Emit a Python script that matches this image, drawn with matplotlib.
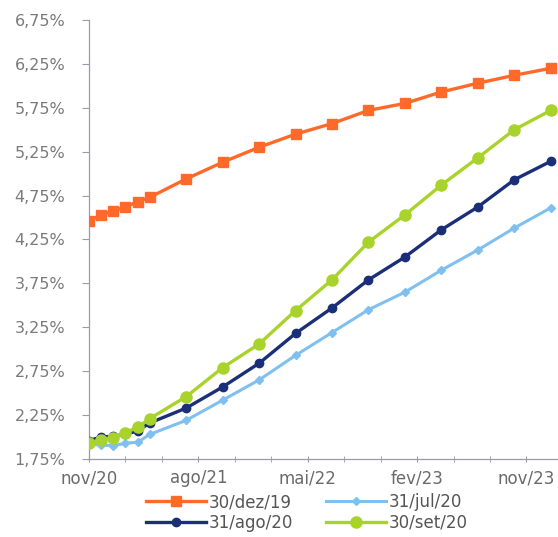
import matplotlib
matplotlib.use("Agg")
import matplotlib.pyplot as plt
from matplotlib.ticker import FixedLocator, FuncFormatter

# ── Data ─────────────────────────────────────────────────────────────
# months counted from nov/20
MONTHS = [0, 1, 2, 3, 4, 5, 8, 11, 14, 17, 20, 23, 26, 29, 32, 35, 38]

DEZ19 = [4.46, 4.53, 4.575, 4.62, 4.68, 4.73, 4.94, 5.13, 5.30, 5.45,
         5.57, 5.72, 5.80, 5.93, 6.03, 6.12, 6.20]
JUL20 = [1.92, 1.91, 1.90, 1.93, 1.94, 2.03, 2.19, 2.42, 2.65, 2.93,
         3.19, 3.45, 3.65, 3.90, 4.13, 4.38, 4.61]
AGO20 = [1.96, 2.00, 2.01, 2.03, 2.07, 2.16, 2.33, 2.57, 2.84, 3.18,
         3.47, 3.79, 4.05, 4.36, 4.62, 4.93, 5.14]
SET20 = [1.93, 1.97, 1.99, 2.05, 2.11, 2.21, 2.46, 2.79, 3.06, 3.44,
         3.79, 4.22, 4.53, 4.87, 5.18, 5.50, 5.72]

XTICKS = [0, 9, 18, 27, 36]
XLABELS = ["nov/20", "ago/21", "mai/22", "fev/23", "nov/23"]
YTICKS = [1.75, 2.25, 2.75, 3.25, 3.75, 4.25, 4.75, 5.25, 5.75, 6.25, 6.75]

# ── Figure ───────────────────────────────────────────────────────────
fig = plt.figure(figsize=(5.58, 5.37), dpi=100, facecolor="white")
ax = fig.add_axes([0.1595, 0.1453, 0.8405, 0.8175])

l_dez, = ax.plot(MONTHS, DEZ19, color="#FF6A2A", lw=2.4, marker="s", ms=6.5,
                 label="30/dez/19", zorder=3)
l_jul, = ax.plot(MONTHS, JUL20, color="#80C0F0", lw=2.2, marker="D", ms=4.5,
                 label="31/jul/20", zorder=4)
l_ago, = ax.plot(MONTHS, AGO20, color="#1B2F78", lw=2.4, marker="o", ms=6,
                 label="31/ago/20", zorder=5)
l_set, = ax.plot(MONTHS, SET20, color="#A8D32A", lw=2.4, marker="o", ms=8,
                 label="30/set/20", zorder=6)

ax.set_xlim(0, 38.6)
ax.set_ylim(1.75, 6.75)
ax.set_xticks(XTICKS)
ax.set_xticklabels(XLABELS)
ax.xaxis.set_minor_locator(FixedLocator(range(0, 39, 3)))
ax.set_yticks(YTICKS)
ax.yaxis.set_major_formatter(FuncFormatter(lambda v, _: f"{v:.2f}%".replace(".", ",")))

ax.spines[["top", "right"]].set_visible(False)
for s in ("left", "bottom"):
    ax.spines[s].set_color("#9a9aa8")
    ax.spines[s].set_linewidth(0.9)
ax.tick_params(axis="y", which="major", length=5, color="#9a9aa8",
               labelsize=11.5, labelcolor="#7a7a7a", pad=12)
ax.tick_params(axis="x", which="both", direction="inout", length=5,
               color="#9a9aa8", labelsize=12, labelcolor="#6a6a6a", pad=5)
ax.tick_params(axis="x", which="minor", length=4)

# column-first fill: dez/19 + ago/20 on the left, jul/20 + set/20 on the right
fig.legend([l_dez, l_ago, l_jul, l_set],
           ["30/dez/19", "31/ago/20", "31/jul/20", "30/set/20"],
           loc="lower center", bbox_to_anchor=(0.55, -0.018), ncol=2,
           frameon=False, fontsize=12, handlelength=3.6, handletextpad=0.15,
           columnspacing=2.0, labelspacing=0.15, labelcolor="#555555")

fig.savefig("out.png", dpi=100, facecolor="white")
